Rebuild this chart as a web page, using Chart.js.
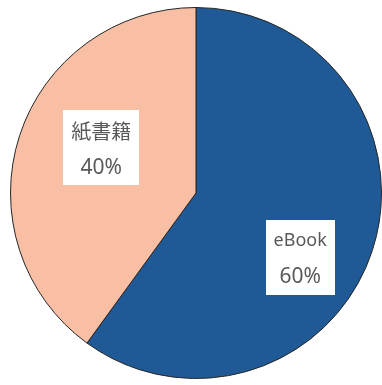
<!DOCTYPE html>
<html>
<head>
<meta charset="utf-8">
<script src="https://cdn.jsdelivr.net/npm/chart.js@4.4.1/dist/chart.umd.min.js"></script>
<style>
  html, body { margin: 0; padding: 0; background: #fff; overflow: hidden; }
  #wrap { width: 382px; height: 385px; }
</style>
</head>
<body>
<div id="wrap"><canvas id="pie" width="382" height="385"></canvas></div>
<script>
// data
const categories = ['eBook', '紙書籍'];
const shares = [60, 40];
const sliceColors = ['#1F5A96', '#F8BFA5'];

// where each label box sits inside its slice (angle shift in degrees, fraction of radius)
const labelPlace = [
    { shift: 13.7, frac: 0.66 },
    { shift: 7.6, frac: 0.566 }
];

const boxLabels = {
    id: 'boxLabels',
    afterDatasetsDraw(chart) {
        const ctx = chart.ctx;
        const meta = chart.getDatasetMeta(0);
        meta.data.forEach((arc, i) => {
            const p = arc.getProps(['x', 'y', 'startAngle', 'endAngle', 'outerRadius'], true);
            const mid = (p.startAngle + p.endAngle) / 2 + labelPlace[i].shift * Math.PI / 180;
            const r = p.outerRadius * labelPlace[i].frac;
            const cx = p.x + Math.cos(mid) * r;
            const cy = p.y + Math.sin(mid) * r;

            const name = categories[i];
            const pct = shares[i] + '%';
            const nameFont = /[^\x00-\x7f]/.test(name)
                ? '20px "Noto Sans CJK JP", sans-serif'
                : '18px "Noto Sans", sans-serif';
            const pctFont = '21px "Noto Sans", sans-serif';

            ctx.save();
            ctx.font = nameFont;
            let w = ctx.measureText(name).width;
            ctx.font = pctFont;
            w = Math.max(w, ctx.measureText(pct).width);
            const bw = Math.round(w + 16);
            const bh = 75;

            ctx.fillStyle = '#ffffff';
            ctx.fillRect(Math.round(cx - bw / 2), Math.round(cy - bh / 2), bw, bh);

            ctx.fillStyle = '#595959';
            ctx.textAlign = 'center';
            ctx.textBaseline = 'middle';
            ctx.font = nameFont;
            ctx.fillText(name, cx, cy - 16);
            ctx.font = pctFont;
            ctx.fillText(pct, cx, cy + 20);
            ctx.restore();
        });
    }
};

new Chart(document.getElementById('pie'), {
    type: 'pie',
    data: {
        labels: categories,
        datasets: [{
            data: shares,
            backgroundColor: sliceColors,
            borderColor: '#262626',
            borderWidth: 1
        }]
    },
    options: {
        responsive: false,
        devicePixelRatio: 1,
        animation: false,
        layout: { padding: { left: 10, top: 7, right: 0, bottom: 6 } },
        plugins: {
            legend: { display: false },
            tooltip: { enabled: false }
        }
    },
    plugins: [boxLabels]
});
</script>
</body>
</html>
